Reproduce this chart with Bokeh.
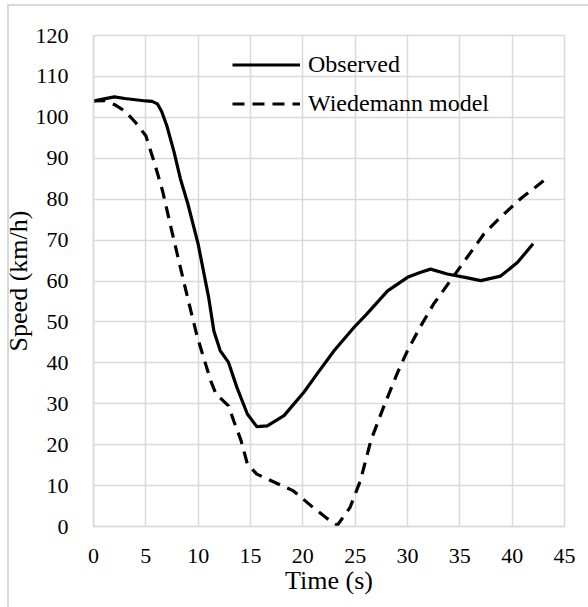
from bokeh.plotting import figure
from bokeh.models import Range1d, Legend, LegendItem, FixedTicker
from bokeh.embed import file_html
from bokeh.resources import INLINE

# Observed speed profile
obs_t = [0, 1, 2, 3, 4, 5, 5.6, 6.1, 6.5, 7, 7.7, 8.3, 9, 10, 11, 11.5, 12.1, 12.9,
         13.7, 14.7, 15.6, 16.6, 18.2, 20.1, 21.5, 23, 24.9, 26.1, 28.1, 30, 31.2,
         32.2, 33.8, 35.5, 37, 38.9, 40.5, 42]
obs_v = [104, 104.5, 105, 104.6, 104.3, 104, 103.9, 103.3, 101.5, 98, 91.5, 85, 79,
         69, 56, 47.8, 43, 40.1, 34, 27.5, 24.4, 24.6, 27.1, 32.8, 37.8, 43, 48.7,
         51.9, 57.6, 60.9, 62.1, 62.9, 61.7, 60.9, 60.1, 61.2, 64.5, 69.1]

# Wiedemann model speed profile
wie_t = [0, 1.1, 2.1, 3, 4, 5, 5.9, 6.6, 7.4, 8, 8.6, 9.3, 9.9, 11.2, 11.7, 12.45,
         12.9, 13.4, 14.1, 14.7, 15.6, 18, 19.1, 21, 22.3, 23.3, 24.5, 25.5, 26.5,
         27.7, 29, 30, 31.2, 32.5, 34.1, 35.7, 37.3, 38.9, 40.8, 43]
wie_v = [104, 104.1, 103, 101.5, 98.8, 95.5, 88.2, 82, 73.1, 66.6, 60.1, 52.7, 46.5,
         35.6, 32.4, 30.6, 29.5, 25.8, 21, 15.3, 12.8, 10, 8.7, 4.6, 2, 0.3, 4.6, 11.2,
         21, 29.1, 37.3, 43, 48.7, 54.4, 60.1, 65.8, 71.5, 75.6, 80.1, 84.5]

x_ticks = [0, 5, 10, 15, 20, 25, 30, 35, 40, 45]
y_ticks = [0, 10, 20, 30, 40, 50, 60, 70, 80, 90, 100, 110, 120]

FONT = "'Times New Roman', 'Liberation Serif', serif"
GRID = "#d9d9d9"

p = figure(width=588, height=607, output_backend="svg", toolbar_location=None,
           x_range=Range1d(0, 45), y_range=Range1d(0, 120),
           min_border_left=93, min_border_right=24, min_border_top=35, min_border_bottom=81)

# chart-area border (left and top edges) drawn as host background behind a transparent border fill
p.border_fill_alpha = 0
p.styles = {"background": "linear-gradient(#d9d9d9, #d9d9d9) 7px 4px / 2px 603px no-repeat, "
                          "linear-gradient(#d9d9d9, #d9d9d9) 7px 4px / 581px 2px no-repeat, #ffffff"}

p.outline_line_color = GRID
p.outline_line_width = 1.5
p.background_fill_color = "white"

for ax, ticks in ((p.xaxis, x_ticks), (p.yaxis, y_ticks)):
    ax.ticker = FixedTicker(ticks=ticks)
    ax.major_tick_line_color = None
    ax.minor_tick_line_color = None
    ax.axis_line_color = GRID
    ax.axis_line_width = 1.5
    ax.major_label_text_font = FONT
    ax.major_label_text_font_size = "22px"
    ax.major_label_text_color = "black"
    ax.axis_label_text_font = FONT
    ax.axis_label_text_font_size = "26px"
    ax.axis_label_text_font_style = "normal"
    ax.axis_label_text_color = "black"

p.xaxis.axis_label = "Time (s)"
p.yaxis.axis_label = "Speed (km/h)"
p.xaxis.major_label_standoff = 16
p.yaxis.major_label_standoff = 19
p.xaxis.axis_label_standoff = 0
p.yaxis.axis_label_standoff = 0

p.xgrid.ticker = FixedTicker(ticks=x_ticks)
p.ygrid.ticker = FixedTicker(ticks=y_ticks)
p.grid.grid_line_color = GRID
p.grid.grid_line_width = 1.5

r_obs = p.line(obs_t, obs_v, line_color="black", line_width=3.2, line_join="round")
r_wie = p.line(wie_t, wie_v, line_color="black", line_width=3.2, line_dash="12 8")

legend = Legend(items=[LegendItem(label="Observed", renderers=[r_obs]),
                       LegendItem(label="Wiedemann model", renderers=[r_wie])],
                location=(139, 403), orientation="vertical",
                glyph_width=68, glyph_height=39, label_height=39, label_standoff=8,
                spacing=0, padding=0, margin=0,
                border_line_color=None, background_fill_alpha=0,
                label_text_font=FONT, label_text_font_size="24px", label_text_color="black")
p.add_layout(legend, "center")

open("out.html", "w").write(file_html(p, INLINE))
